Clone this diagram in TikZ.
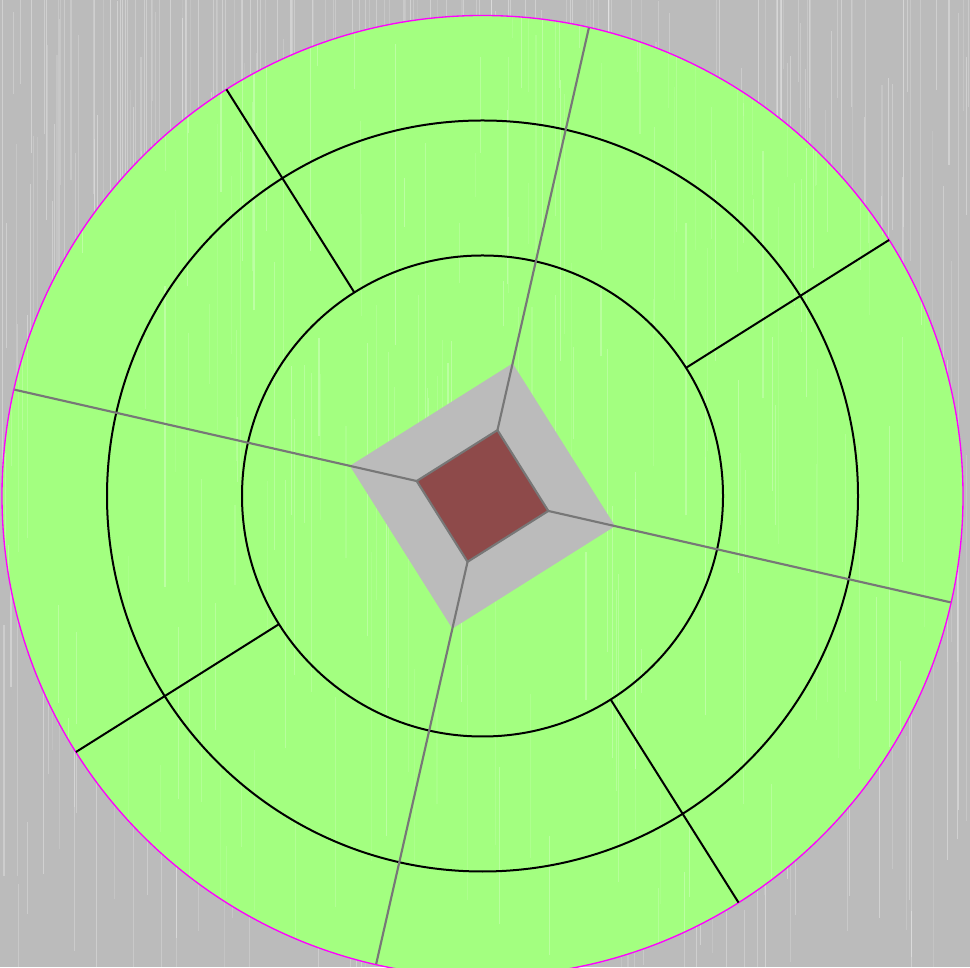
\documentclass[tikz,border=0pt]{standalone}
\definecolor{bgcol}{HTML}{BBBBBB}
\definecolor{fieldgreen}{HTML}{A3FF80}
\definecolor{squarered}{HTML}{8E4A4A}
\definecolor{linegray}{HTML}{777777}
\definecolor{rimcol}{HTML}{FF00FF}
\tikzset{
  ringline/.style={draw=black,line width=1.5pt},
  spoke/.style={draw=black,line width=1.5pt},
  axisline/.style={draw=linegray,line width=1.6pt},
  streak/.style={draw=white,line width=0.8pt},
}
\begin{document}
\begin{tikzpicture}[x=0.75pt,y=0.75pt]
\useasboundingbox (0,0) rectangle (970,967);
\fill[bgcol] (0,0) rectangle (970,967);
\pgfmathsetseed{7}
\foreach \i in {1,...,420}{
  \pgfmathsetmacro\xx{rnd*970}
  \pgfmathsetmacro\ya{-100+rnd*1000}
  \pgfmathsetmacro\yl{80+rnd*500}
  \pgfmathsetmacro\op{0.1+rnd*0.25}
  \draw[streak,opacity=\op] (\xx,\ya) -- ++(0,\yl);
}
\coordinate (O) at (482.5,471);
\fill[fieldgreen] (O) circle (480.5);
\begin{scope}
  \clip (O) circle (480.5);
  \foreach \i in {1,...,200}{
    \pgfmathsetmacro\xx{rnd*970}
    \pgfmathsetmacro\ya{rnd*967}
    \pgfmathsetmacro\yl{40+rnd*300}
    \pgfmathsetmacro\op{0.08+rnd*0.2}
    \draw[streak,opacity=\op] (\xx,\ya) -- ++(0,\yl);
  }
\end{scope}
\draw[rimcol,line width=1pt] (O) circle (480.5);
\draw[ringline] (O) circle (375.5);
\draw[ringline] (O) circle (240.5);
\begin{scope}[shift={(482.5,471)}]
  \foreach \a/\n in {32.2/a,122.2/b,212.2/c,302.2/d}{
    \coordinate (si\n) at (\a:240.5);
    \coordinate (so\n) at (\a:480.5);
  }
  \foreach \a/\n in {77.2/1,167.2/2,257.2/3,347.2/4}{
    \coordinate (q\n) at (\a:67.5);
    \coordinate (d\n) at (\a:136);
    \coordinate (e\n) at (\a:480);
  }
\end{scope}
\foreach \n in {a,b,c,d}{ \draw[spoke] (si\n) -- (so\n); }
\fill[bgcol] (d1) -- (d2) -- (d3) -- (d4) -- cycle;
\foreach \n in {1,2,3,4}{ \draw[axisline] (q\n) -- (e\n); }
\filldraw[fill=squarered,draw=linegray,line width=1.6pt,line join=round] (q1) -- (q2) -- (q3) -- (q4) -- cycle;
\end{tikzpicture}
\end{document}
